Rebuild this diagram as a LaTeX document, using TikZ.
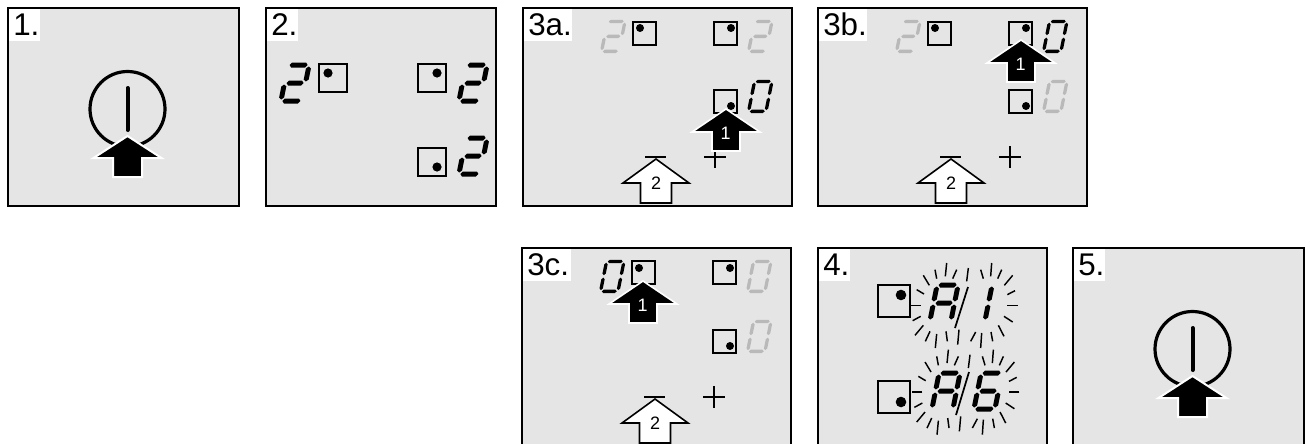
\documentclass[tikz,border=0pt]{standalone}
\usepackage{fontspec}
\setmainfont{Liberation Sans}
\definecolor{panelgray}{HTML}{E5E5E5}
\definecolor{dimseg}{HTML}{B9B9B9}
\tikzset{
  panelbox/.style={draw=black,fill=panelgray,line width=1.5pt},
  tagbox/.style={fill=white},
  tagtext/.style={anchor=base west,inner sep=0pt,font=\fontsize{23.5}{25}\selectfont},
  keybox/.style={draw=black,line width=1pt},
  ray/.style={draw=black,line width=1.1pt},
  keyarrow/.style={fill=black,draw=white,line width=1.2pt,miter limit=4},
  openarrow/.style={fill=white,draw=black,line width=1.2pt,line join=miter},
  arrownum/.style={inner sep=0pt,font=\fontsize{13.5}{14}\selectfont},
  powerline/.style={draw=black,line width=2.4pt},
  signline/.style={draw=black,line width=1.1pt}
}
\def\tk{2.5}
% segments
\newcommand\hsg[3]{\fill ({#1},{#3}) -- ({#1+2},{#3-\tk}) -- ({#2-2},{#3-\tk}) -- ({#2},{#3}) -- ({#2-2},{#3+\tk}) -- ({#1+2},{#3+\tk}) -- cycle;}
\newcommand\vsg[3]{\fill ({#1},{#2}) -- ({#1+\tk},{#2+2}) -- ({#1+\tk},{#3-2}) -- ({#1},{#3}) -- ({#1-\tk},{#3-2}) -- ({#1-\tk},{#2+2}) -- cycle;}
\newcommand\sga{\hsg{3}{21}{-38}}
\newcommand\sgb{\vsg{22.5}{-36.5}{-21.5}}
\newcommand\sgc{\vsg{22.5}{-18.5}{-3.5}}
\newcommand\sgd{\hsg{3}{21}{-2}}
\newcommand\sge{\vsg{1.5}{-18.5}{-3.5}}
\newcommand\sgf{\vsg{1.5}{-36.5}{-21.5}}
\newcommand\sgg{\hsg{3.5}{20.5}{-20}}
\newcommand\dtwo{\sga\sgb\sgg\sge\sgd}
\newcommand\dzero{\sga\sgb\sgc\sgd\sge\sgf}
\newcommand\dA{\sga\sgb\sgc\sgg\sge\sgf}
\newcommand\dOne{\sgb\sgc}
\newcommand\dSix{\sga\sgc\sgd\sge\sgf\sgg}
% \dig{x}{y}{scale}{colour}{segments}
\newcommand\dig[5]{\begin{scope}[shift={(#1,#2)},xslant=0.2,scale=#3,fill=#4]#5\end{scope}}
\newcommand\sdig[4]{\dig{#1}{#2}{0.83}{#3}{\def\tk{2}#4}}
% \keysq{x}{y}{size}{dotx}{doty}{r}
\newcommand\keysq[6]{\draw[keybox] (#1,#2) rectangle ({#1+#3},{#2+#3}); \fill ({#4},{#5}) circle[radius=#6];}
% \panel{name}{x0}{x1}{y0}{y1}{tagwidth}{tag}
\newcommand\panel[7]{\path[panelbox] (#2,#4) rectangle (#3,#5);
  \fill[tagbox] ({#2+1},{#4+1}) rectangle ({#2+1+#6},{#4+33});
  \node[tagtext] (#1) at ({#2+5},{#4+27}) {#7};}
\newcommand\blackarrow[4]{\path[keyarrow] (#1,#2) -- ({#1+34},{#2+23}) -- ({#1+14},{#2+23}) -- ({#1+14},{#2+42}) -- ({#1-14},{#2+42}) -- ({#1-14},{#2+23}) -- ({#1-34},{#2+23}) -- cycle;
  \node[arrownum,text=white] (#3) at ({#1-0.5},{#2+24}) {#4};}
\newcommand\whitearrow[4]{\path[openarrow] (#1,#2) -- ({#1+33},{#2+24}) -- ({#1+15.5},{#2+24}) -- ({#1+15.5},{#2+44}) -- ({#1-15.5},{#2+44}) -- ({#1-15.5},{#2+24}) -- ({#1-33},{#2+24}) -- cycle;
  \node[arrownum] (#3) at (#1,{#2+24}) {#4};}
\newcommand\power[2]{\draw[powerline] (#1,#2) circle[radius=37.5];
  \draw[powerline,line cap=round,line width=3pt] ({#1},{#2-21}) -- ({#1},{#2+21});
  \path[keyarrow,line width=1.5pt] (#1,{#2+27}) -- ({#1+34},{#2+49}) -- ({#1+14.5},{#2+49}) -- ({#1+14.5},{#2+68}) -- ({#1-14.5},{#2+68}) -- ({#1-14.5},{#2+49}) -- ({#1-34},{#2+49}) -- cycle;}
\newcommand\signs[2]{\draw[signline] ({#1+122},{#2+157}) -- ({#1+143},{#2+157});
  \draw[signline] ({#1+181},{#2+157}) -- ({#1+203},{#2+157}) ({#1+192},{#2+146}) -- ({#1+192},{#2+168});}
% rays around the blinking read-outs
\newcommand\rays{%
  \foreach \a/\b/\c/\d in {310/142/328/172,345/125/350/152,380/105/376/145,410/125/398/152,445/120/440/160,482/125/490/152,515/105/512/145,545/125/533/152,578/142/553/172,585/188/562/200,593/232/562/232,578/282/552/265,552/325/535/292,513/312/518/340,485/315/482/360,467/312/452/340,417/305/413/350,378/310/382/340,350/318/346/360,330/310/316/340,310/292/285/322,302/265/278/278,302/232/272/232,312/198/290/185}
  {\draw[ray] ({\a/3+820},{\b/3+228}) -- ({\c/3+820},{\d/3+228});}}
\begin{document}
\begin{tikzpicture}[x=0.75pt,y=-0.75pt]
\useasboundingbox (0,0) rectangle (1310,443);
\clip (0,0) rectangle (1310,443);
\fill[white] (0,0) rectangle (1310,443);
% 1
\panel{t1}{8}{239}{8}{206}{31}{1.}
\power{127.5}{109}
% 2
\panel{t2}{266}{496}{8}{206}{31}{2.}
\dig{279}{103}{1}{black}{\dtwo}
\keysq{319}{64}{28}{328}{73}{4.6}
\keysq{418}{64}{28}{437}{73}{4.6}
\dig{457}{103}{1}{black}{\dtwo}
\keysq{418}{148}{28}{437}{167}{4.6}
\dig{457}{176}{1}{black}{\dtwo}
% 3a
\panel{t3a}{523}{792}{8}{206}{48}{3a.}
\sdig{600}{53}{dimseg}{\dtwo}
\keysq{633}{22}{23}{640}{28}{4}
\keysq{714}{22}{23}{731}{28}{4}
\sdig{747}{53}{dimseg}{\dtwo}
\keysq{714}{90}{23}{731}{106}{4}
\sdig{747}{113}{black}{\dzero}
\signs{523}{0}
\blackarrow{726}{109}{n3a1}{1}
\whitearrow{656}{159}{n3a2}{2}
% 3b
\panel{t3b}{818}{1087}{8}{206}{48}{3b.}
\sdig{895}{53}{dimseg}{\dtwo}
\keysq{928}{22}{23}{935}{28}{4}
\keysq{1009}{22}{23}{1026}{28}{4}
\sdig{1042}{53}{black}{\dzero}
\keysq{1009}{90}{23}{1026}{106}{4}
\sdig{1042}{113}{dimseg}{\dzero}
\signs{818}{0}
\blackarrow{1021}{40}{n3b1}{1}
\whitearrow{951}{159}{n3b2}{2}
% 3c
\panel{t3c}{522}{791}{248}{470}{48}{3c.}
\sdig{599}{293}{black}{\dzero}
\keysq{632}{261}{23}{639}{268}{4}
\keysq{713}{261}{23}{730}{268}{4}
\sdig{746}{293}{dimseg}{\dzero}
\keysq{713}{330}{23}{730}{346}{4}
\sdig{746}{353}{dimseg}{\dzero}
\signs{522}{240}
\blackarrow{643}{281}{n3c1}{1}
\whitearrow{655}{399}{n3c2}{2}
% 4
\panel{t4}{818}{1047}{248}{470}{31}{4.}
\keysq{878}{285}{32}{901}{295}{5.3}
\keysq{878}{381}{32}{901}{402}{5.3}
\dig{928}{323}{1}{black}{\dA}
\dig{962}{323}{1}{black}{\dOne}
\draw[ray,line width=1.3pt] (968,287) -- (955,328);
\rays
\dig{930}{411}{1}{black}{\dA}
\dig{972}{411}{1}{black}{\dSix}
\draw[ray,line width=1.3pt] (969,372) -- (956,415);
\begin{scope}[shift={(1.7,86.7)}]\rays\end{scope}
% 5
\panel{t5}{1073}{1304}{248}{470}{31}{5.}
\power{1192.5}{349}
\end{tikzpicture}
\end{document}
